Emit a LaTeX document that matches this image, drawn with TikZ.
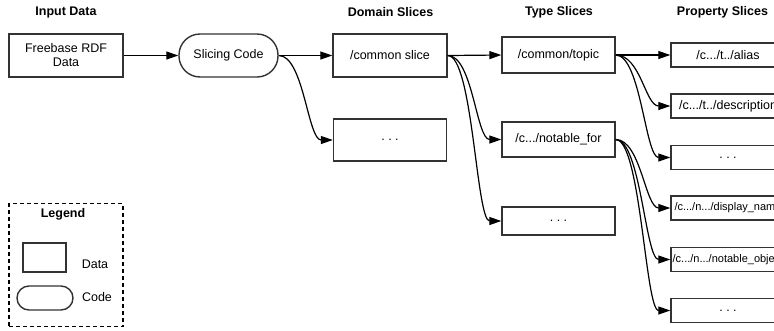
\documentclass[tikz,border=0pt]{standalone}
\usepackage{fontspec}
\setmainfont{Liberation Sans}
\usetikzlibrary{arrows.meta}
\begin{document}
\begin{tikzpicture}[x=1pt,y=-1pt,
  font=\fontsize{12.5}{14}\selectfont,
  databox/.style={draw=black!80,line width=1.4pt,rectangle,inner sep=0pt,align=center},
  codebox/.style={databox,rounded corners=#1},
  title/.style={font=\fontsize{12.5}{14}\selectfont\bfseries},
  link/.style={line width=1.2pt,-{Triangle[length=12pt,width=8pt]}},
  small/.style={font=\fontsize{11}{13}\selectfont}]
\useasboundingbox (0,0) rectangle (774,330);
\clip (0,0) rectangle (774,330);
% titles
\node[title] (tIn) at (66,12) {Input Data};
\node[title] (tDom) at (390.5,12) {Domain Slices};
\node[title] (tType) at (559,12) {Type Slices};
\node[title] (tProp) at (722.5,12) {Property Slices};
% nodes
\node[databox,minimum width=114pt,minimum height=43pt] (in) at (66,55.5) {Freebase RDF\\Data};
\node[codebox=21pt,minimum width=99pt,minimum height=43pt] (code) at (228.5,55.5) {Slicing Code};
\node[databox,minimum width=114pt,minimum height=43pt] (dom1) at (390,55.5) {/common slice};
\node[databox,minimum width=113pt,minimum height=42pt] (dom2) at (390,140) {.\ .\ .};
\node[databox,minimum width=113pt,minimum height=36pt] (ty1) at (558.5,55) {/common/topic};
\node[databox,minimum width=113pt,minimum height=35pt] (ty2) at (558.5,139.5) {/c.../notable\_for};
\node[databox,minimum width=113pt,minimum height=28pt] (ty3) at (558.5,221) {.\ .\ .};
\node[databox,minimum width=114pt,minimum height=24pt] (p1) at (728,55) {/c.../t../alias};
\node[databox,minimum width=114pt,minimum height=24pt] (p2) at (728,106) {/c.../t../description};
\node[databox,minimum width=114pt,minimum height=24pt] (p3) at (728,157.5) {.\ .\ .};
\node[databox,small,minimum width=114pt,minimum height=24pt] (p4) at (728,208) {/c.../n.../display\_name};
\node[databox,small,minimum width=114pt,minimum height=24pt] (p5) at (728,259.5) {/c.../n.../notable\_object};
\node[databox,minimum width=114pt,minimum height=24pt] (p6) at (728,310.5) {.\ .\ .};
% connectors
\draw[link] (in.east) -- (code.west);
\draw[link] (code.east) -- (dom1.west);
\draw[link] (code.east) .. controls +(25,0) and +(-25,0) .. (dom2.west);
\draw[link] (dom1.east) -- (ty1.west);
\draw[link] (dom1.east) .. controls +(25,0) and +(-25,0) .. (ty2.west);
\draw[link] (dom1.east) .. controls +(25,0) and +(-25,0) .. (ty3.west);
\draw[link] (ty1.east) -- (p1.west);
\draw[link] (ty1.east) .. controls +(25,0) and +(-25,0) .. (p2.west);
\draw[link] (ty1.east) .. controls +(25,0) and +(-25,0) .. (p3.west);
\draw[link] (ty2.east) .. controls +(25,0) and +(-25,0) .. (p4.west);
\draw[link] (ty2.east) .. controls +(25,0) and +(-25,0) .. (p5.west);
\draw[link] (ty2.east) .. controls +(25,0) and +(-25,0) .. (p6.west);
% legend
\node[draw=black,line width=1.1pt,dash pattern=on 4pt off 3pt,minimum width=114pt,minimum height=123pt,inner sep=0pt] (legend) at (66,265) {};
\node[title] (legTitle) at (63,214) {Legend};
\node[databox,minimum width=43pt,minimum height=29pt] (legData) at (44.5,257.5) {};
\node (legDataL) at (95,264) {Data};
\node[codebox=12pt,minimum width=56pt,minimum height=24pt] (legCode) at (45,298) {};
\node (legCodeL) at (97,297) {Code};
\end{tikzpicture}
\end{document}
